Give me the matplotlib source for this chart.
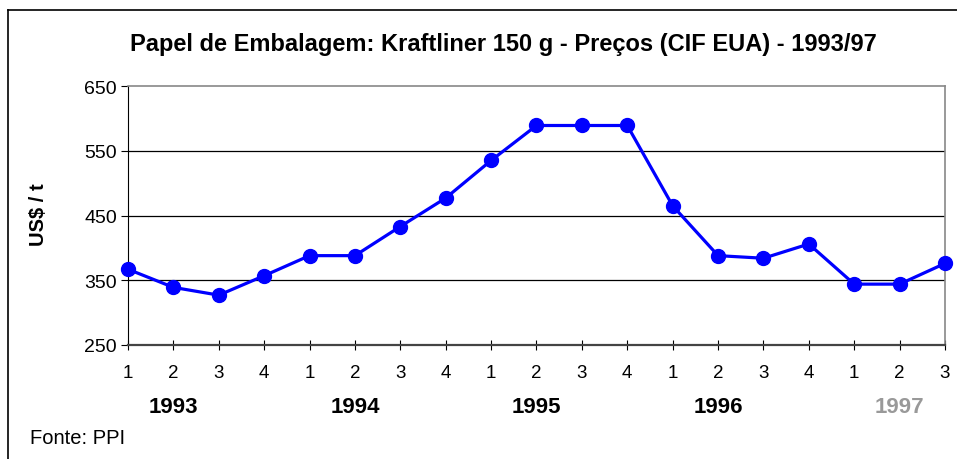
import matplotlib
matplotlib.use('Agg')
import matplotlib.pyplot as plt
from matplotlib.lines import Line2D
import matplotlib.transforms as mtransforms

matplotlib.rcParams['font.family'] = ['Liberation Sans', 'DejaVu Sans']

# quarterly prices, US$/t
quarters = ['1', '2', '3', '4', '1', '2', '3', '4', '1', '2', '3', '4',
            '1', '2', '3', '4', '1', '2', '3']
prices = [367, 339, 327, 357, 388, 388, 433, 477, 535, 589, 589, 589,
          465, 388, 384, 406, 344, 344, 376]
years = ['1993', '1994', '1995', '1996', '1997']
year_pos = [1, 5, 9, 13, 17]
year_colors = ['black', 'black', 'black', 'black', '#999999']
y_ticks = [250, 350, 450, 550, 650]

fig = plt.figure(figsize=(9.57, 4.60), dpi=100)
ax = fig.add_axes([128/957, 1 - 346/460, (945 - 128)/957, (346 - 87)/460])

x = list(range(len(prices)))
for yv in [350, 450, 550]:
    ax.axhline(yv, color='black', linewidth=0.9, zorder=1)
ax.plot(x, prices, color='#0000FF', linewidth=2.3, marker='o', markersize=10,
        zorder=3, clip_on=False)

ax.set_xlim(0, len(prices) - 1)
ax.set_ylim(250, 650)
ax.set_yticks(y_ticks)
ax.set_yticklabels([str(v) for v in y_ticks], fontsize=14)
ax.set_xticks(x)
ax.set_xticklabels(quarters, fontsize=13.5)
ax.tick_params(axis='x', direction='inout', length=7, width=0.8, pad=10, colors='black')
ax.tick_params(axis='y', direction='out', length=5, width=0.8, pad=3)

ax.spines['left'].set_color('black')
ax.spines['bottom'].set_color('#444444')
ax.spines['bottom'].set_linewidth(1.6)
ax.spines['top'].set_color('#888888')
ax.spines['right'].set_color('#888888')
ax.spines['top'].set_linewidth(1.2)
ax.spines['right'].set_linewidth(1.2)

trans = mtransforms.blended_transform_factory(ax.transData, fig.transFigure)
for yr, p, c in zip(years, year_pos, year_colors):
    ax.text(p, 1 - 408/460, yr, transform=trans, ha='center', va='center',
            fontsize=16, fontweight='bold', color=c)

fig.text(38/957, 1 - 215/460, 'US$ / t', rotation=90, ha='center', va='center',
         fontsize=14.5, fontweight='bold')

fig.text(503/957, 1 - 45/460, 'Papel de Embalagem: Kraftliner 150 g - Preços (CIF EUA) - 1993/97',
         ha='center', va='center', fontsize=17, fontweight='bold')
fig.text(30/957, 1 - 438/460, 'Fonte: PPI', ha='left', va='center', fontsize=14.5)

# outer frame (top and left edges visible)
fig.add_artist(Line2D([8/957, 8/957], [0, 1 - 11/460], color='black', linewidth=1.2,
                      transform=fig.transFigure))
fig.add_artist(Line2D([8/957, 1], [1 - 11/460, 1 - 11/460], color='black', linewidth=1.2,
                      transform=fig.transFigure))

plt.savefig('out.png', dpi=100)
plt.close()
